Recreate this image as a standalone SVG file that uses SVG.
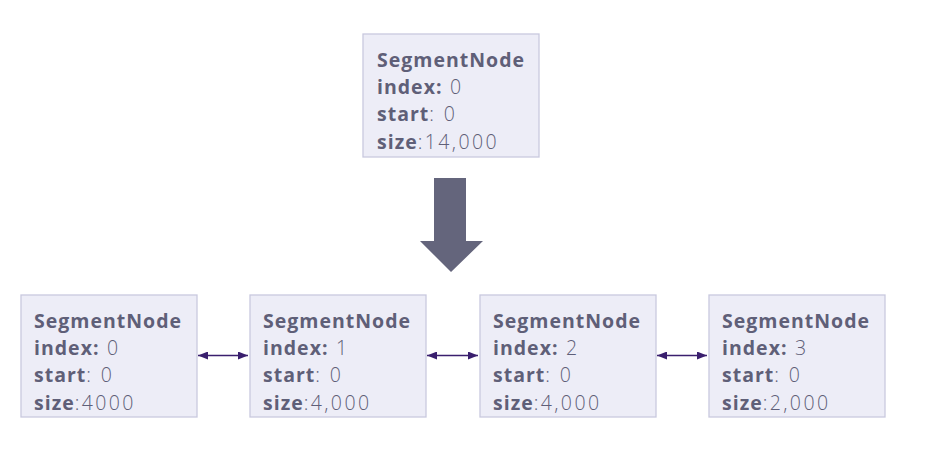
<svg xmlns="http://www.w3.org/2000/svg" width="926" height="449" viewBox="0 0 926 449">
<style>
.box{fill:#ededf7;stroke:#c9c9df;stroke-width:1.3}
text{font-family:"Open Sans","Liberation Sans",sans-serif;font-size:19.5px;fill:#5f5f78}
.b{font-weight:700;letter-spacing:1px}
.l{font-weight:300;letter-spacing:2.4px}
.conn{stroke:#3a1f6e;stroke-width:1.5;fill:none}
</style>
<defs>
<marker id="ah" viewBox="0 0 10 8" refX="10" refY="4" markerWidth="10" markerHeight="8" markerUnits="userSpaceOnUse" orient="auto-start-reverse">
<path d="M0,0 L10,4 L0,8 Z" fill="#3a1f6e"/>
</marker>
</defs>
<rect width="926" height="449" fill="#ffffff"/>
<g id="node-top">
<rect class="box" x="363" y="34" width="176" height="123"/>
<text x="377" y="67"><tspan class="b">SegmentNode</tspan></text>
<text x="377" y="94"><tspan class="b">index:</tspan><tspan class="l"> 0</tspan></text>
<text x="377" y="121"><tspan class="b">start</tspan><tspan class="l">: 0</tspan></text>
<text x="377" y="149"><tspan class="b">size</tspan><tspan class="l">:14,000</tspan></text>
</g>
<g id="split-arrow">
<path d="M434,178 H466 V241 H483 L451,272 L420,241 H434 Z" fill="#64657c"/>
</g>
<g id="node-0">
<rect class="box" x="21" y="295" width="176" height="122"/>
<text x="34" y="328"><tspan class="b">SegmentNode</tspan></text>
<text x="34" y="355"><tspan class="b">index:</tspan><tspan class="l"> 0</tspan></text>
<text x="34" y="382"><tspan class="b">start</tspan><tspan class="l">: 0</tspan></text>
<text x="34" y="410"><tspan class="b">size</tspan><tspan class="l">:4000</tspan></text>
</g>
<g id="node-1">
<rect class="box" x="250" y="295" width="176" height="122"/>
<text x="263" y="328"><tspan class="b">SegmentNode</tspan></text>
<text x="263" y="355"><tspan class="b">index:</tspan><tspan class="l"> 1</tspan></text>
<text x="263" y="382"><tspan class="b">start</tspan><tspan class="l">: 0</tspan></text>
<text x="263" y="410"><tspan class="b">size</tspan><tspan class="l">:4,000</tspan></text>
</g>
<g id="node-2">
<rect class="box" x="480" y="295" width="176" height="122"/>
<text x="493" y="328"><tspan class="b">SegmentNode</tspan></text>
<text x="493" y="355"><tspan class="b">index:</tspan><tspan class="l"> 2</tspan></text>
<text x="493" y="382"><tspan class="b">start</tspan><tspan class="l">: 0</tspan></text>
<text x="493" y="410"><tspan class="b">size</tspan><tspan class="l">:4,000</tspan></text>
</g>
<g id="node-3">
<rect class="box" x="709" y="295" width="176" height="122"/>
<text x="722" y="328"><tspan class="b">SegmentNode</tspan></text>
<text x="722" y="355"><tspan class="b">index:</tspan><tspan class="l"> 3</tspan></text>
<text x="722" y="382"><tspan class="b">start</tspan><tspan class="l">: 0</tspan></text>
<text x="722" y="410"><tspan class="b">size</tspan><tspan class="l">:2,000</tspan></text>
</g>
<g id="connectors">
<line class="conn" x1="198" y1="355.5" x2="248" y2="355.5" marker-start="url(#ah)" marker-end="url(#ah)"/>
<line class="conn" x1="427" y1="355.5" x2="478" y2="355.5" marker-start="url(#ah)" marker-end="url(#ah)"/>
<line class="conn" x1="657" y1="355.5" x2="707" y2="355.5" marker-start="url(#ah)" marker-end="url(#ah)"/>
</g>
</svg>
